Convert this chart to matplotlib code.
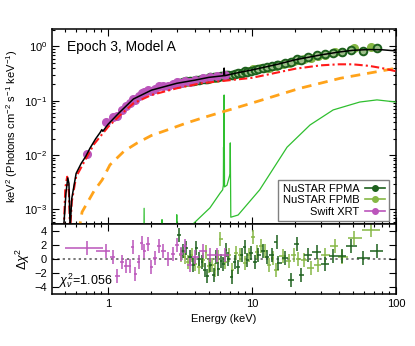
import numpy as np
import matplotlib
matplotlib.use("Agg")
import matplotlib.pyplot as plt
from matplotlib.lines import Line2D
from matplotlib.ticker import FixedLocator, FixedFormatter, LogLocator, NullFormatter

plt.rcParams['font.family'] = ['Liberation Sans', 'DejaVu Sans']
plt.rcParams['mathtext.fontset'] = 'custom'
plt.rcParams['mathtext.rm'] = 'Liberation Sans'
plt.rcParams['mathtext.it'] = 'Liberation Sans:italic'
plt.rcParams['font.size'] = 8

# model components (energy keV, keV^2 flux)
tot_e = [0.45, 0.49, 0.51, 0.525, 0.535, 0.545, 0.56, 0.60, 0.65, 0.70, 0.75, 0.82, 0.88, 0.905,
         0.92, 1.0, 1.2, 1.5, 2.0, 3.0, 4.0, 5.0, 6.35, 6.40, 6.45, 8.0, 10, 15, 20, 30, 40, 50, 65, 80, 100]
tot_f = [1e-4, 4e-4, 2.0e-3, 3.8e-3, 3.0e-3, 4.5e-4, 1.6e-3, 4.6e-3, 7.0e-3, 9.5e-3, 1.35e-2, 2.0e-2, 2.6e-2, 2.95e-2,
         2.75e-2, 3.7e-2, 6.1e-2, 0.108, 0.157, 0.21, 0.24, 0.27, 0.29, 0.40, 0.29, 0.33, 0.37, 0.47, 0.57, 0.70, 0.79, 0.85, 0.88, 0.87, 0.83]

red_e = [0.45, 0.49, 0.505, 0.52, 0.535, 0.545, 0.56, 0.60, 0.70, 0.80, 1.0, 1.2, 1.5, 2.0, 3.0, 4.4,
         10, 20, 30, 40, 50, 65, 80, 100]
red_f = [1e-4, 3e-4, 2.5e-3, 4.0e-3, 2.0e-3, 4e-4, 1.4e-3, 4.0e-3, 8.5e-3, 1.6e-2, 3.3e-2, 5.3e-2, 0.09, 0.128, 0.17, 0.21,
         0.265, 0.39, 0.45, 0.47, 0.47, 0.44, 0.40, 0.35]

ora_e = [0.60, 0.66, 0.80, 0.91, 1.03, 1.29, 1.59, 2.0, 2.57, 3.5, 4.7, 10, 21.5, 41, 86, 100]
ora_f = [2e-4, 9e-4, 2.2e-3, 3.5e-3, 6.6e-3, 1.18e-2, 1.67e-2, 2.3e-2, 2.9e-2, 3.9e-2, 5.0e-2, 9.1e-2, 0.17, 0.26, 0.37, 0.40]

grn_e = [0.45, 1.76, 1.78, 1.80, 2.35, 2.37, 2.39, 2.98, 3.0, 3.02, 3.7, 3.89, 5.1, 6.0, 6.25, 6.32, 6.34, 6.36,
         6.40, 6.44, 6.7, 6.95, 7.03, 7.06, 7.09, 7.12, 8.0, 11.3, 17.5, 25.3, 36.6, 56, 73.7, 100]
grn_f = [1e-5, 1e-5, 1.05e-3, 1e-5, 1e-5, 6.5e-4, 1e-5, 1e-5, 8e-4, 1e-5, 3e-4, 5.4e-4, 1.07e-3, 2.0e-3, 2.3e-3, 2.8e-3, 1.4e-2, 4e-3,
         0.128, 2.6e-3, 2.8e-3, 4.0e-3, 4.5e-3, 1.68e-2, 3.5e-3, 7.2e-4, 7.9e-4, 2.3e-3, 1.4e-2, 3.6e-2, 6.8e-2, 9.5e-2, 0.104, 0.095]

# Swift XRT: energy, flux, residual
xrt_e = [0.71, 0.97, 1.08, 1.16, 1.25, 1.33, 1.42, 1.48, 1.55, 1.65, 1.71, 1.79, 1.89, 2.0, 2.12, 2.27,
         2.42, 2.62, 2.84, 3.03, 3.2, 3.42, 3.71, 4.0, 4.6, 5.1, 5.7, 6.5]
xrt_f = [0.0105, 0.040, 0.050, 0.052, 0.068, 0.080, 0.092, 0.108, 0.105, 0.125, 0.142, 0.145, 0.158, 0.150, 0.165, 0.185,
         0.19, 0.19, 0.205, 0.22, 0.215, 0.235, 0.222, 0.24, 0.262, 0.27, 0.285, 0.30]
xrt_r = [1.5, 1.2, 0.3, -2.4, -0.5, -1.0, -1.0, 1.7, -2.1, -0.4, 2.3, 1.1, 2.2, -1.1, 0.1, 1.8,
         1.2, 0.0, 0.7, 2.0, 0.7, 1.8, -0.9, 0.3, 1.2, 0.5, 0.5, 0.5]
xrt_first_bin = (0.5, 0.92)

# NuSTAR FPMA
fpma_e = [3.1, 3.3, 3.5, 3.7, 3.9, 4.1, 4.3, 4.5, 4.7, 4.9, 5.1, 5.4, 5.6, 5.8, 6.1, 6.3, 6.6, 6.8, 7.2, 7.6,
          8.0, 8.5, 8.9, 9.2, 9.8, 10.5, 11.0, 12.0, 12.7, 13.7, 14.8, 15.2, 17.0, 18.6, 20.6, 21.8, 24.5,
          28.1, 32.2, 36.7, 41.9, 48.4, 59.3, 73.5]
fpma_f = [0.215, 0.22, 0.228, 0.232, 0.235, 0.243, 0.245, 0.248, 0.25, 0.255, 0.27, 0.272, 0.28, 0.28, 0.29, 0.29, 0.30, 0.30, 0.30, 0.31,
          0.32, 0.33, 0.35, 0.345, 0.36, 0.375, 0.39, 0.40, 0.415, 0.43, 0.46, 0.465, 0.50, 0.51, 0.58, 0.56, 0.64,
          0.70, 0.72, 0.77, 0.80, 0.86, 0.84, 0.93]
fpma_r = [3.4, 1.2, 1.6, 0.3, -0.9, 1.5, 0.0, -0.5, -1.6, -2.4, -0.8, -2.3, 0.3, -1.4, -0.3, -0.7, 1.3, 0.0, -2.6, -0.4,
          -1.1, 0.5, 1.7, -0.2, 0.8, -0.4, 0.5, 1.2, 0.3, 0.5, 2.4, -0.6, 0.2, -3.0, 2.2, -2.3, 0.6,
          1.0, -0.7, 0.4, 0.4, 1.8, 0.2, 1.2]

# NuSTAR FPMB
fpmb_e = [3.2, 3.4, 3.6, 3.8, 4.0, 4.3, 4.6, 4.8, 5.0, 5.3, 5.5, 5.8, 6.0, 6.5, 6.9, 7.3, 7.7, 8.3, 9.0, 9.6,
          10.2, 10.8, 11.5, 12.3, 13.1, 14.0, 14.6, 16.3, 18.0, 19.5, 21.0, 22.8, 25.5, 28.5, 32.0, 37.8,
          42.0, 51.0, 67.0]
fpmb_f = [0.21, 0.222, 0.226, 0.235, 0.236, 0.24, 0.248, 0.25, 0.255, 0.262, 0.265, 0.272, 0.29, 0.29, 0.30, 0.30, 0.315, 0.325, 0.34, 0.36,
          0.38, 0.38, 0.395, 0.405, 0.41, 0.43, 0.44, 0.47, 0.50, 0.54, 0.56, 0.59, 0.62, 0.67, 0.70, 0.80,
          0.80, 0.93, 0.99]
fpmb_r = [0.6, 0.3, -0.4, 0.5, -0.7, -1.1, -0.2, 1.0, -1.0, -0.9, -1.6, 0.3, 2.8, -0.4, 0.5, -1.6, 0.8, 0.5, -0.6, 0.5,
          3.1, 1.0, 1.9, 1.2, -0.9, 0.2, -1.6, 0.4, -0.3, 0.5, 0.0, -0.2, -1.3, -0.9, 0.5, 1.8,
          0.3, 3.0, 4.1]

c_fpma = '#1d601d'
c_fpmb = '#86b845'
c_xrt = '#bb55bb'


def bin_err(e):
    e = np.asarray(e, float)
    mid = np.sqrt(e[1:] * e[:-1])
    lo = np.r_[e[0] ** 2 / mid[0], mid]
    hi = np.r_[mid, e[-1] ** 2 / mid[-1]]
    return np.vstack([e - lo, hi - e])


fig = plt.figure(figsize=(4.15, 3.46), dpi=100)
ax1 = fig.add_axes([0.1253, 0.3526, 0.829, 0.5636])
ax2 = fig.add_axes([0.1253, 0.1503, 0.829, 0.2023], sharex=ax1)

# data in the spectrum panel
ax1.plot(fpmb_e, fpmb_f, 'o', ms=5.5, color=c_fpmb, mec=c_fpmb, zorder=2)
ax1.plot(fpma_e, fpma_f, 'o', ms=5.5, mfc='#9cbf88', mec=c_fpma, mew=1.4, zorder=2)
ax1.plot(xrt_e, xrt_f, 'o', ms=5.5, color=c_xrt, zorder=2)

# model curves
ax1.plot(grn_e, grn_f, color='#2fbf2f', lw=0.9, zorder=3)
ax1.plot(ora_e, ora_f, color='#ffa31a', lw=2, ls=(0, (3.5, 2.5)), zorder=3)
ax1.plot(red_e, red_f, color='#ff1a1a', lw=1.5, ls=(0, (4, 1.5, 1, 1.5)), zorder=4)
ax1.plot(tot_e, tot_f, color='black', lw=1.1, zorder=5)

ax1.set_xscale('log')
ax1.set_yscale('log')
ax1.set_xlim(0.408, 100)
ax1.set_ylim(5.4e-4, 2.1)
ax1.set_ylabel(r'keV$^2$ (Photons cm$^{-2}$ s$^{-1}$ keV$^{-1}$)', fontsize=8, labelpad=3)
ax1.text(0.044, 0.908, 'Epoch 3, Model A', transform=ax1.transAxes, fontsize=10, va='center')

handles = [Line2D([], [], color=c_fpma, marker='o', ms=4, lw=1.2),
           Line2D([], [], color=c_fpmb, marker='o', ms=4, lw=1.2),
           Line2D([], [], color=c_xrt, marker='o', ms=4, lw=1.2)]
leg = ax1.legend(handles, ['NuSTAR FPMA', 'NuSTAR FPMB', 'Swift XRT'], loc='lower right',
                 bbox_to_anchor=(0.98, 0.015), markerfirst=False, fancybox=False, fontsize=8,
                 handlelength=1.8, handletextpad=0.5, labelspacing=0.12, borderpad=0.4,
                 borderaxespad=0, framealpha=1)
leg.get_frame().set_edgecolor('#808080')
leg.get_frame().set_linewidth(1)

# residuals
xe = bin_err(xrt_e)
xe[0, 0] = xrt_e[0] - xrt_first_bin[0]
xe[1, 0] = xrt_first_bin[1] - xrt_e[0]
ax2.axhline(0, color='#555555', ls=(0, (1.5, 2)), lw=1.1, zorder=1)
ax2.errorbar(fpmb_e, fpmb_r, yerr=1, xerr=bin_err(fpmb_e), fmt='none', ecolor=c_fpmb, elinewidth=1.1, zorder=2)
ax2.errorbar(fpma_e, fpma_r, yerr=1, xerr=bin_err(fpma_e), fmt='none', ecolor=c_fpma, elinewidth=1.1, zorder=3)
ax2.errorbar(xrt_e, xrt_r, yerr=1, xerr=xe, fmt='none', ecolor=c_xrt, elinewidth=1.1, zorder=4)
ax2.set_ylim(-5, 5)
ax2.set_yticks([-4, -2, 0, 2, 4])
ax2.set_ylabel(r'$\Delta\chi^2$', fontsize=9, labelpad=2)
ax2.set_xlabel('Energy (keV)', fontsize=8, labelpad=4)
ax2.text(0.02, 0.19, r'$\chi_\nu^2$=1.056', transform=ax2.transAxes, fontsize=9, va='center')

ax2.xaxis.set_major_locator(FixedLocator([1, 10, 100]))
ax2.xaxis.set_major_formatter(FixedFormatter(['1', '10', '100']))
ax2.xaxis.set_minor_locator(LogLocator(base=10, subs=np.arange(2, 10), numticks=20))
ax2.xaxis.set_minor_formatter(NullFormatter())
ax1.yaxis.set_major_locator(LogLocator(base=10, numticks=10))
ax1.yaxis.set_minor_locator(LogLocator(base=10, subs=np.arange(2, 10), numticks=20))
ax1.yaxis.set_minor_formatter(NullFormatter())
plt.setp(ax1.get_xticklabels(), visible=False)

for ax in (ax1, ax2):
    ax.tick_params(which='both', direction='in', top=True, right=True, labelsize=8, width=0.8)
    ax.tick_params(which='major', length=5)
    ax.tick_params(which='minor', length=2.5)
    for s in ax.spines.values():
        s.set_linewidth(1.1)

fig.savefig('out.png', dpi=100)
